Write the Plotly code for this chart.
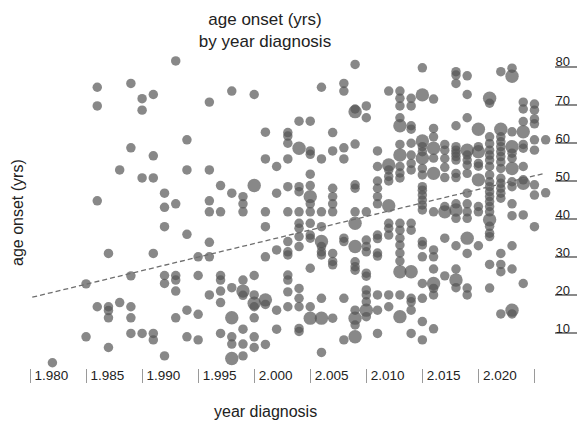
import plotly.graph_objects as go

# ---------------- data ----------------
diag_year = [
    1982,
    1985, 1985,
    1986, 1986, 1986, 1986,
    1987, 1987, 1987, 1987, 1987,
    1988, 1988,
    1989, 1989, 1989, 1989, 1989, 1989,
    1990, 1990, 1990, 1990,
    1991, 1991, 1991, 1991, 1991, 1991,
    1992, 1992, 1992, 1992, 1992, 1992,
    1993, 1993, 1993, 1993, 1993, 1993,
    1994, 1994, 1994, 1994, 1994,
    1995, 1995, 1995, 1995,
    1996, 1996, 1996, 1996, 1996, 1996, 1996,
    1997, 1997, 1997, 1997, 1997, 1997, 1997,
    1998, 1998, 1998, 1998, 1998, 1998, 1998,
    1999, 1999, 1999, 1999, 1999, 1999, 1999, 1999, 1999,
    2000, 2000, 2000, 2000, 2000, 2000, 2000, 2000, 2000,
    2001, 2001, 2001, 2001, 2001, 2001, 2001, 2001,
    2002, 2002, 2002, 2002, 2002,
    2003, 2003, 2003, 2003, 2003, 2003, 2003, 2003, 2003, 2003, 2003, 2003, 2003,
    2004, 2004, 2004, 2004, 2004, 2004, 2004, 2004, 2004, 2004, 2004, 2004, 2004, 2004,
    2005, 2005, 2005, 2005, 2005, 2005, 2005, 2005, 2005, 2005, 2005, 2005, 2005, 2005,
    2006, 2006, 2006, 2006, 2006, 2006, 2006, 2006, 2006, 2006, 2006,
    2007, 2007, 2007, 2007, 2007, 2007, 2007, 2007, 2007, 2007,
    2008, 2008, 2008, 2008, 2008, 2008, 2008, 2008,
    2009, 2009, 2009, 2009, 2009, 2009, 2009, 2009, 2009, 2009, 2009, 2009, 2009, 2009, 2009, 2009,
    2010, 2010, 2010, 2010, 2010, 2010, 2010, 2010, 2010, 2010, 2010, 2010, 2010,
    2011, 2011, 2011, 2011, 2011, 2011, 2011, 2011, 2011, 2011, 2011, 2011, 2011,
    2012, 2012, 2012, 2012, 2012, 2012, 2012, 2012, 2012, 2012, 2012,
    2013, 2013, 2013, 2013, 2013, 2013, 2013, 2013, 2013, 2013, 2013, 2013, 2013, 2013, 2013, 2013, 2013, 2013, 2013,
    2014, 2014, 2014, 2014, 2014, 2014, 2014, 2014, 2014, 2014, 2014, 2014, 2014, 2014, 2014,
    2015, 2015, 2015, 2015, 2015, 2015, 2015, 2015, 2015, 2015, 2015, 2015, 2015, 2015, 2015, 2015, 2015, 2015, 2015, 2015, 2015,
    2016, 2016, 2016, 2016, 2016, 2016, 2016, 2016, 2016, 2016, 2016, 2016, 2016, 2016,
    2017, 2017, 2017, 2017, 2017, 2017, 2017, 2017, 2017,
    2018, 2018, 2018, 2018, 2018, 2018, 2018, 2018, 2018, 2018, 2018, 2018, 2018, 2018, 2018, 2018, 2018, 2018,
    2019, 2019, 2019, 2019, 2019, 2019, 2019, 2019, 2019, 2019, 2019, 2019, 2019, 2019, 2019, 2019,
    2020, 2020, 2020, 2020, 2020, 2020, 2020, 2020, 2020,
    2021, 2021, 2021, 2021, 2021, 2021, 2021, 2021, 2021, 2021, 2021, 2021, 2021, 2021, 2021, 2021, 2021, 2021, 2021, 2021, 2021, 2021,
    2022, 2022, 2022, 2022, 2022, 2022, 2022, 2022, 2022, 2022, 2022, 2022, 2022, 2022, 2022, 2022, 2022, 2022,
    2023, 2023, 2023, 2023, 2023, 2023, 2023, 2023, 2023, 2023, 2023, 2023, 2023, 2023, 2023,
    2024, 2024, 2024, 2024, 2024, 2024, 2024, 2024, 2024, 2024, 2024,
    2025, 2025, 2025, 2025, 2025, 2025, 2025, 2025, 2025,
    2026, 2026,
]

onset_age = [
    2.3,
    23.0, 9.1,
    74.6, 69.7, 44.8, 17.0,
    31.0, 17.0, 16.0, 14.1, 6.3,
    52.9, 18.1,
    75.6, 58.7, 25.1, 17.0, 14.1, 10.0,
    71.6, 68.6, 50.8, 10.0,
    72.7, 56.6, 50.8, 31.0, 10.0, 8.3,
    46.8, 43.1, 38.0, 25.2, 23.1, 4.1,
    81.5, 44.0, 25.2, 24.0, 21.1, 14.1,
    60.8, 52.9, 36.0, 16.1, 9.1,
    30.1, 25.2, 15.0, 8.3,
    70.7, 52.9, 44.8, 41.9, 33.9, 30.1, 20.1,
    48.8, 41.9, 25.2, 24.0, 21.1, 18.1, 10.0,
    73.6, 46.8, 22.0, 14.1, 9.1, 7.2, 3.4,
    45.9, 44.0, 41.9, 24.0, 21.1, 20.0, 11.1, 7.2, 4.1,
    72.7, 48.8, 25.2, 20.1, 17.9, 17.0, 14.1, 9.1, 6.3,
    62.8, 55.8, 41.9, 38.0, 30.1, 18.8, 17.6, 7.1,
    53.8, 46.8, 31.9, 16.1, 11.1,
    62.7, 61.8, 59.9, 55.8, 48.5, 41.9, 34.1, 31.4, 30.6, 25.3, 24.0, 20.9, 17.0,
    65.7, 58.6, 48.5, 47.2, 41.9, 38.9, 37.6, 35.4, 32.8, 21.8, 19.2, 17.0, 11.3, 10.5,
    65.7, 57.9, 57.0, 51.8, 48.8, 45.9, 44.0, 41.9, 38.9, 35.8, 35.0, 27.1, 17.0, 14.0,
    74.6, 55.8, 41.9, 38.0, 34.1, 32.8, 31.4, 30.6, 19.2, 14.0, 5.0,
    62.7, 57.9, 48.1, 45.9, 44.0, 41.9, 31.0, 28.9, 28.0, 14.0,
    75.6, 73.6, 58.7, 55.8, 35.0, 34.1, 19.2, 8.3,
    80.6, 68.9, 68.2, 59.7, 49.0, 48.1, 41.9, 38.9, 32.8, 28.8, 27.5, 26.6, 16.1, 14.0, 12.2, 9.1,
    69.7, 66.6, 41.9, 34.5, 32.8, 31.4, 25.8, 25.0, 21.4, 20.1, 18.3, 16.1, 14.4,
    57.9, 53.8, 50.0, 48.1, 45.9, 44.0, 35.8, 34.9, 31.1, 30.3, 20.1, 16.1, 10.0,
    73.6, 54.2, 52.9, 51.2, 50.0, 43.5, 38.9, 37.6, 35.8, 20.1, 17.0,
    73.6, 71.7, 69.7, 66.6, 64.5, 59.6, 56.8, 53.8, 52.1, 50.8, 38.9, 37.1, 35.0, 33.2, 31.1, 29.0, 26.2, 20.1, 14.4,
    71.7, 69.7, 64.5, 63.6, 59.9, 56.8, 54.6, 52.9, 38.9, 37.1, 26.2, 19.2, 18.3, 16.1, 10.0,
    79.7, 72.6, 60.5, 59.0, 57.7, 56.0, 53.3, 51.6, 48.5, 47.6, 46.3, 45.0, 43.7, 42.4, 34.1, 33.2, 30.1, 23.1, 19.2, 13.1, 8.3,
    71.5, 63.8, 61.6, 58.6, 56.0, 52.0, 41.9, 31.9, 30.1, 26.9, 23.1, 21.8, 20.1, 11.2,
    59.6, 58.1, 55.9, 53.6, 50.9, 43.3, 41.9, 35.0, 25.1,
    78.7, 77.8, 75.6, 64.5, 59.0, 58.1, 57.3, 56.4, 55.5, 52.0, 50.9, 44.0, 42.4, 40.2, 33.0, 26.9, 24.0, 22.0,
    77.6, 72.7, 66.6, 58.1, 56.8, 55.5, 54.2, 52.0, 46.8, 44.0, 41.9, 40.2, 35.0, 31.0, 21.9, 20.1,
    63.6, 59.0, 57.7, 54.6, 53.9, 50.3, 43.3, 41.9, 33.0,
    71.7, 70.4, 61.6, 59.8, 58.1, 56.8, 55.5, 53.8, 51.6, 49.8, 48.5, 47.2, 45.9, 44.6, 43.3, 41.9, 39.8, 38.1, 36.3, 35.4, 28.1, 21.9,
    78.7, 63.6, 61.6, 60.3, 59.0, 57.7, 56.4, 55.0, 53.3, 50.7, 49.4, 48.1, 46.8, 45.5, 31.0, 28.1, 26.2, 15.1,
    79.6, 77.5, 62.9, 59.0, 57.3, 56.0, 53.3, 49.8, 48.5, 44.0, 40.9, 33.0, 26.9, 16.1, 15.1,
    70.7, 68.9, 65.6, 62.9, 59.6, 58.6, 53.8, 50.3, 49.4, 41.1, 23.1,
    70.2, 68.6, 66.3, 65.0, 60.8, 58.1, 49.0, 46.3, 38.0,
    60.8, 46.9,
]

n_patients = [
    1,
    1, 1,
    1, 1, 1, 1,
    1, 1, 1, 1, 1,
    1, 1,
    1, 1, 1, 1, 1, 1,
    1, 1, 1, 1,
    1, 1, 1, 1, 1, 1,
    1, 1, 1, 1, 1, 1,
    1, 1, 1, 1, 1, 1,
    1, 1, 1, 1, 1,
    1, 1, 1, 1,
    1, 1, 1, 1, 1, 1, 1,
    1, 1, 1, 1, 1, 1, 1,
    1, 1, 1, 2, 1, 1, 2,
    1, 1, 1, 1, 2, 1, 1, 1, 1,
    1, 2, 1, 1, 2, 1, 1, 1, 1,
    1, 1, 1, 1, 1, 2, 1, 1,
    1, 1, 1, 1, 1,
    1, 1, 1, 1, 1, 1, 1, 1, 1, 1, 1, 1, 1,
    1, 2, 1, 1, 1, 1, 1, 1, 1, 1, 1, 1, 1, 1,
    1, 1, 1, 1, 1, 2, 1, 1, 1, 1, 1, 1, 1, 2,
    1, 1, 1, 1, 2, 1, 1, 1, 1, 2, 1,
    1, 1, 1, 1, 1, 1, 1, 1, 1, 1,
    1, 1, 1, 1, 1, 1, 1, 1,
    1, 1, 2, 1, 1, 1, 1, 2, 2, 1, 1, 1, 1, 2, 1, 2,
    1, 1, 1, 1, 1, 1, 1, 1, 1, 1, 1, 2, 1,
    1, 1, 1, 1, 1, 1, 1, 1, 1, 1, 1, 1, 1,
    1, 2, 1, 1, 1, 2, 1, 1, 1, 1, 1,
    1, 1, 1, 1, 2, 1, 2, 1, 1, 1, 1, 1, 1, 1, 1, 1, 2, 1, 2,
    1, 1, 1, 1, 1, 1, 1, 1, 1, 1, 2, 1, 1, 1, 1,
    1, 2, 2, 1, 1, 2, 1, 1, 1, 1, 1, 1, 1, 1, 1, 1, 1, 1, 1, 1, 1,
    1, 1, 1, 2, 1, 2, 1, 1, 1, 1, 2, 1, 1, 1,
    1, 1, 1, 1, 1, 1, 2, 1, 1,
    1, 1, 1, 1, 1, 1, 1, 1, 1, 1, 1, 1, 2, 1, 1, 1, 2, 1,
    1, 1, 1, 2, 1, 1, 1, 1, 1, 1, 1, 1, 2, 1, 1, 1,
    2, 1, 2, 1, 1, 2, 1, 1, 1,
    2, 1, 1, 1, 1, 1, 1, 1, 1, 1, 1, 1, 1, 1, 1, 1, 2, 1, 1, 1, 1, 1,
    1, 2, 1, 1, 1, 1, 1, 1, 1, 1, 1, 1, 1, 1, 1, 1, 1, 1,
    1, 2, 1, 2, 1, 1, 2, 1, 1, 1, 1, 1, 1, 2, 1,
    1, 1, 1, 2, 1, 1, 1, 1, 2, 1, 1,
    1, 1, 1, 1, 1, 1, 1, 1, 1,
    1, 1,
]

assert len(diag_year) == len(onset_age) == len(n_patients), (
    len(diag_year), len(onset_age), len(n_patients))

# trend line end points
trend_year = [1980.2, 2025.9]
trend_age = [19.5, 52.0]

x_tick_vals = [1980, 1985, 1990, 1995, 2000, 2005, 2010, 2015, 2020, 2025]
x_tick_text = ["1.980", "1.985", "1.990", "1.995", "2.000", "2.005",
               "2.010", "2.015", "2.020", ""]
y_tick_vals = [10, 20, 30, 40, 50, 60, 70, 80]

title_text = "age onset (yrs)<br>by year diagnosis"
x_title = "year diagnosis"
y_title = "age onset (yrs)"

# ---------------- figure ----------------
FONT = "Liberation Sans, Arial, Helvetica, sans-serif"
W, H = 577, 422
ML, MR, MT, MB = 25, 23, 50, 54
TITLE_CX = 265

fig = go.Figure()

fig.add_trace(go.Scatter(
    x=diag_year, y=onset_age, mode="markers",
    marker=dict(size=n_patients, sizemode="area", sizeref=1 / 45.0,
                color="#555555", opacity=0.7, line=dict(width=0)),
    hoverinfo="x+y", showlegend=False, cliponaxis=False,
))

fig.add_trace(go.Scatter(
    x=trend_year, y=trend_age, mode="lines",
    line=dict(color="#6e6e6e", width=1.3, dash="5px,3px"),
    hoverinfo="skip", showlegend=False, cliponaxis=False,
))

plot_w = W - ML - MR
plot_h = H - MT - MB

fig.update_layout(
    width=W, height=H,
    margin=dict(l=ML, r=MR, t=MT, b=MB, pad=0),
    paper_bgcolor="white", plot_bgcolor="white",
    font=dict(family=FONT, color="#222222"),
    title=dict(text=title_text, x=TITLE_CX / W, xref="container", xanchor="center",
               y=1 - 25 / H, yref="container", yanchor="top",
               font=dict(size=17, color="#222222", family=FONT)),
    xaxis=dict(
        range=[1979.554, 2026.744], showgrid=False, zeroline=False, showline=False,
        ticks="outside", ticklen=14, tickwidth=1, tickcolor="#9a9a9a",
        tickvals=x_tick_vals, ticktext=x_tick_text,
        ticklabelposition="outside right", ticklabelstandoff=-5, ticklabelshift=4,
        tickfont=dict(size=13.5, color="#222222", family=FONT),
        automargin=False, fixedrange=True,
    ),
    yaxis=dict(
        range=[0.92, 84.38], side="right", showgrid=False, zeroline=False,
        showline=False, ticks="outside", ticklen=23, tickwidth=1.5,
        tickcolor="#8a8a8a", tickvals=y_tick_vals,
        ticklabelposition="outside top", ticklabelstandoff=-2, ticklabelshift=5,
        tickfont=dict(size=13, color="#222222", family=FONT),
        automargin=False, fixedrange=True,
    ),
    annotations=[
        dict(text=x_title, xref="paper", yref="paper",
             x=(TITLE_CX - ML) / plot_w, y=(H - MB - 411) / plot_h,
             xanchor="center", yanchor="middle", showarrow=False,
             font=dict(size=16, color="#222222", family=FONT)),
        dict(text=y_title, xref="paper", yref="paper",
             x=(17 - ML) / plot_w, y=(H - MB - 213) / plot_h,
             xanchor="center", yanchor="middle", showarrow=False, textangle=-90,
             font=dict(size=16, color="#222222", family=FONT)),
    ],
)

fig.write_html("out.html")
